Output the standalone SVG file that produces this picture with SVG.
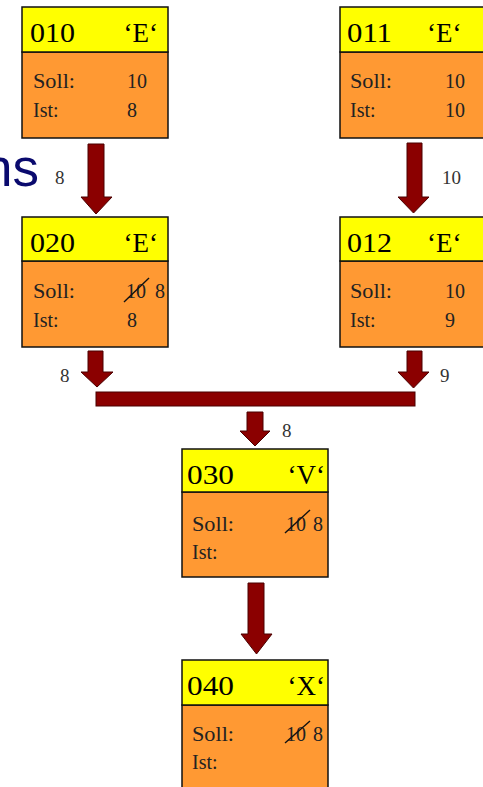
<svg xmlns="http://www.w3.org/2000/svg" width="483" height="787" viewBox="0 0 483 787">
<defs>
<style>
.hd{fill:#FFFF00;stroke:#111;stroke-width:1.5}
.bd{fill:#FF9933;stroke:#111;stroke-width:1.5}
.ht{font-family:"Liberation Serif","Times New Roman",serif;font-size:27px;fill:#000}
.bt{font-family:"Liberation Serif","Times New Roman",serif;font-size:20px;fill:#222}
.lb{font-family:"Liberation Serif","Times New Roman",serif;font-size:19px;fill:#333}
.ar{fill:#8B0000;stroke:#4a0000;stroke-width:1}
.st{stroke:#111;stroke-width:1.4}
</style>
</defs>
<rect width="483" height="787" fill="#fff"/>
<text x="39" y="186" text-anchor="end" font-family="Liberation Sans, Arial, sans-serif" font-size="53" fill="#0a0a6e">ns</text>

<g id="connectors">
<path class="ar" d="M88,144 H104 V197 H112 L96,214 L81,197 H88 Z"/>
<path class="ar" d="M407,143 H422 V197 H429 L413.5,213 L398,197 H407 Z"/>
<path class="ar" d="M88,351 H103 V372 H113 L97,387 L81,372 H88 Z"/>
<path class="ar" d="M407,351 H422 V372 H429 L413.5,388 L398,372 H407 Z"/>
<rect class="ar" x="96" y="392" width="319" height="14"/>
<path class="ar" d="M247,412 H263 V431 H270 L255,446 L240,431 H247 Z"/>
<path class="ar" d="M248,583 H264 V634 H272 L256.5,654 L241,634 H248 Z"/>
<text class="lb" x="55" y="184">8</text>
<text class="lb" x="442" y="184">10</text>
<text class="lb" x="60" y="382">8</text>
<text class="lb" x="440" y="382">9</text>
<text class="lb" x="282" y="437">8</text>
</g>

<g id="n010">
<rect class="bd" x="22" y="52" width="146" height="86"/>
<rect class="hd" x="22" y="7" width="146" height="45"/>
<text class="ht" x="30" y="42" textLength="45" lengthAdjust="spacingAndGlyphs">010</text>
<text class="ht" x="158" y="42" text-anchor="end">‘E‘</text>
<text class="bt" x="33" y="88" textLength="42" lengthAdjust="spacingAndGlyphs">Soll:</text>
<text class="bt" x="33" y="117">Ist:</text>
<text class="bt" x="127" y="88">10</text>
<text class="bt" x="127" y="117">8</text>
</g>

<g id="n011">
<rect class="bd" x="340" y="52" width="148" height="86"/>
<rect class="hd" x="340" y="7" width="148" height="45"/>
<text class="ht" x="347" y="42" textLength="45" lengthAdjust="spacingAndGlyphs">011</text>
<text class="ht" x="427" y="42">‘E‘</text>
<text class="bt" x="350" y="88" textLength="42" lengthAdjust="spacingAndGlyphs">Soll:</text>
<text class="bt" x="350" y="117">Ist:</text>
<text class="bt" x="445" y="88">10</text>
<text class="bt" x="445" y="117">10</text>
</g>

<g id="n020">
<rect class="bd" x="22" y="261" width="146" height="86"/>
<rect class="hd" x="22" y="217" width="146" height="44"/>
<text class="ht" x="30" y="252" textLength="45" lengthAdjust="spacingAndGlyphs">020</text>
<text class="ht" x="158" y="252" text-anchor="end">‘E‘</text>
<text class="bt" x="33" y="298" textLength="42" lengthAdjust="spacingAndGlyphs">Soll:</text>
<text class="bt" x="33" y="327">Ist:</text>
<text class="bt" x="126" y="298">10</text>
<line class="st" x1="124" y1="302" x2="149" y2="278"/>
<text class="bt" x="155" y="298">8</text>
<text class="bt" x="127" y="327">8</text>
</g>

<g id="n012">
<rect class="bd" x="340" y="261" width="148" height="86"/>
<rect class="hd" x="340" y="217" width="148" height="44"/>
<text class="ht" x="347" y="252" textLength="45" lengthAdjust="spacingAndGlyphs">012</text>
<text class="ht" x="427" y="252">‘E‘</text>
<text class="bt" x="350" y="298" textLength="42" lengthAdjust="spacingAndGlyphs">Soll:</text>
<text class="bt" x="350" y="327">Ist:</text>
<text class="bt" x="445" y="298">10</text>
<text class="bt" x="445" y="327">9</text>
</g>

<g id="n030">
<rect class="bd" x="182" y="492" width="146" height="85"/>
<rect class="hd" x="182" y="449" width="146" height="43"/>
<text class="ht" x="187" y="484" textLength="47" lengthAdjust="spacingAndGlyphs">030</text>
<text class="ht" x="325" y="484" text-anchor="end">‘V‘</text>
<text class="bt" x="192" y="531" textLength="42" lengthAdjust="spacingAndGlyphs">Soll:</text>
<text class="bt" x="192" y="559">Ist:</text>
<text class="bt" x="286" y="531">10</text>
<line class="st" x1="285" y1="533" x2="310" y2="510"/>
<text class="bt" x="313" y="531">8</text>
</g>

<g id="n040">
<rect class="bd" x="182" y="705" width="146" height="90"/>
<rect class="hd" x="182" y="660" width="146" height="45"/>
<text class="ht" x="187" y="695" textLength="47" lengthAdjust="spacingAndGlyphs">040</text>
<text class="ht" x="325" y="695" text-anchor="end">‘X‘</text>
<text class="bt" x="192" y="741" textLength="42" lengthAdjust="spacingAndGlyphs">Soll:</text>
<text class="bt" x="192" y="769">Ist:</text>
<text class="bt" x="286" y="741">10</text>
<line class="st" x1="285" y1="743" x2="310" y2="721"/>
<text class="bt" x="313" y="741">8</text>
</g>
</svg>
